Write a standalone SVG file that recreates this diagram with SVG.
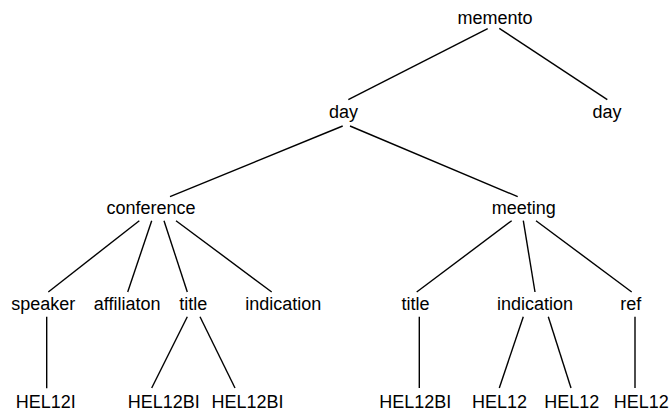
<svg xmlns="http://www.w3.org/2000/svg" width="672" height="412" viewBox="0 0 672 412">
<style>
text{font-family:"Liberation Sans",Arial,sans-serif;font-size:18px;fill:#000;text-anchor:middle}
.e line{stroke:#000;stroke-width:1.4}
</style>
<rect width="672" height="412" fill="#fff"/>
<g class="e" id="connectors">
<line x1="487.7" y1="28.7" x2="348.3" y2="99.7"/>
<line x1="499.3" y1="28.3" x2="607.3" y2="99.7"/>
<line x1="342.7" y1="126" x2="170" y2="196.7"/>
<line x1="350" y1="126" x2="517.7" y2="196.7"/>
<line x1="139.3" y1="220.7" x2="48.3" y2="292"/>
<line x1="151.7" y1="220.7" x2="127.7" y2="292"/>
<line x1="164" y1="220.7" x2="187.3" y2="292"/>
<line x1="176" y1="220.7" x2="271.7" y2="292"/>
<line x1="46.7" y1="316.7" x2="46.7" y2="388.3"/>
<line x1="187.3" y1="316.7" x2="151.7" y2="388"/>
<line x1="200" y1="316.7" x2="235" y2="388"/>
<line x1="511.7" y1="220.7" x2="416.7" y2="292"/>
<line x1="523.3" y1="220.7" x2="535" y2="292"/>
<line x1="536" y1="220.7" x2="631.7" y2="292"/>
<line x1="419.3" y1="316.7" x2="419.3" y2="388"/>
<line x1="523.3" y1="316.7" x2="499.3" y2="388"/>
<line x1="548.3" y1="316.7" x2="571" y2="388"/>
<line x1="635" y1="316.7" x2="635" y2="388"/>
</g>
<g id="n-memento"><text x="495" y="24">memento</text></g>
<g id="n-day1"><text x="343.5" y="118">day</text></g>
<g id="n-day2"><text x="607" y="118">day</text></g>
<g id="n-conference"><text x="151" y="214">conference</text></g>
<g id="n-meeting"><text x="523.7" y="214">meeting</text></g>
<g id="n-speaker"><text x="43.3" y="309.5">speaker</text></g>
<g id="n-affiliaton"><text x="127.2" y="309.5">affiliaton</text></g>
<g id="n-title1"><text x="193.3" y="309.5">title</text></g>
<g id="n-indication1"><text x="283.2" y="309.5">indication</text></g>
<g id="n-title2"><text x="415.5" y="309.5">title</text></g>
<g id="n-indication2"><text x="535" y="309.5">indication</text></g>
<g id="n-ref"><text x="630.8" y="309.5">ref</text></g>
<g id="n-hel12i"><text x="45.8" y="408">HEL12I</text></g>
<g id="n-hel12bi1"><text x="163.7" y="408">HEL12BI</text></g>
<g id="n-hel12bi2"><text x="247.5" y="408">HEL12BI</text></g>
<g id="n-hel12bi3"><text x="415.3" y="408">HEL12BI</text></g>
<g id="n-hel12a"><text x="499.5" y="408">HEL12</text></g>
<g id="n-hel12b"><text x="571.7" y="408">HEL12</text></g>
<g id="n-hel12c"><text x="641.3" y="408">HEL12</text></g>
</svg>
